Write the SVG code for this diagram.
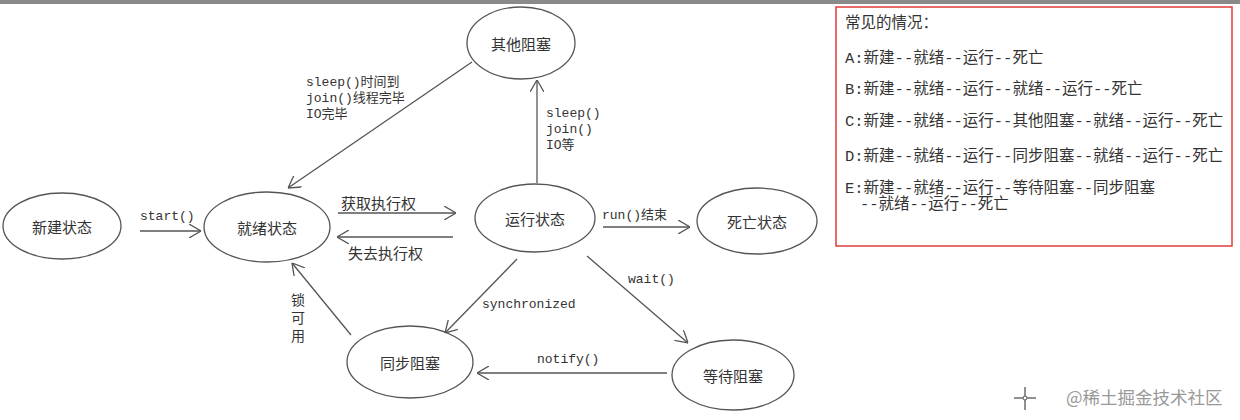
<svg xmlns="http://www.w3.org/2000/svg" width="1240" height="420" viewBox="0 0 1240 420">
<defs>
<marker id="arr" viewBox="0 0 12 14" refX="12" refY="7" markerWidth="12" markerHeight="14" markerUnits="userSpaceOnUse" orient="auto">
<path d="M0,0 L12,7 L0,14" fill="none" stroke="#555" stroke-width="1.3"/>
</marker>
<style>
.node ellipse{fill:#fff;stroke:#555;stroke-width:1.3}
.nt{font-family:"Noto Sans CJK SC",sans-serif;font-size:15px;fill:#333;text-anchor:middle;dominant-baseline:central}
.edges line{stroke:#555;stroke-width:1.3;fill:none}
.lb{font-family:"Liberation Mono","Noto Sans CJK SC",monospace;font-size:13px;fill:#333}
.lc{font-family:"Noto Sans CJK SC",sans-serif;font-size:15px;fill:#333}
.lv{font-family:"Noto Sans CJK SC",sans-serif;font-size:14px;fill:#333}
.bx{font-family:"Liberation Mono","Noto Sans CJK SC",monospace;font-size:15.5px;fill:#333}
</style>
</defs>
<rect x="0" y="0" width="1240" height="420" fill="#fff"/>
<rect x="0" y="0" width="1240" height="4" fill="#8a8a8a"/>

<g id="node-new" class="node"><ellipse cx="62" cy="226" rx="59" ry="33"/><text class="nt" x="62" y="226">新建状态</text></g>
<g id="node-ready" class="node"><ellipse cx="267" cy="227" rx="63" ry="35"/><text class="nt" x="267" y="227">就绪状态</text></g>
<g id="node-run" class="node"><ellipse cx="535" cy="218" rx="60" ry="34"/><text class="nt" x="535" y="218">运行状态</text></g>
<g id="node-dead" class="node"><ellipse cx="757" cy="221" rx="60" ry="33"/><text class="nt" x="757" y="221">死亡状态</text></g>
<g id="node-other" class="node"><ellipse cx="521" cy="43" rx="54" ry="36"/><text class="nt" x="521" y="43">其他阻塞</text></g>
<g id="node-sync" class="node"><ellipse cx="410" cy="362" rx="63" ry="36"/><text class="nt" x="410" y="362">同步阻塞</text></g>
<g id="node-wait" class="node"><ellipse cx="733" cy="375" rx="61" ry="35"/><text class="nt" x="733" y="375">等待阻塞</text></g>

<g id="edges" class="edges">
<line x1="140" y1="231" x2="201" y2="231" marker-end="url(#arr)"/>
<line x1="338" y1="213" x2="456" y2="213" marker-end="url(#arr)"/>
<line x1="453" y1="237" x2="337" y2="237" marker-end="url(#arr)"/>
<line x1="537" y1="183" x2="537" y2="80" marker-end="url(#arr)"/>
<line x1="472" y1="62" x2="288" y2="188" marker-end="url(#arr)"/>
<line x1="603" y1="227" x2="690" y2="227" marker-end="url(#arr)"/>
<line x1="517" y1="259" x2="445" y2="333" marker-end="url(#arr)"/>
<line x1="587" y1="256" x2="688" y2="343" marker-end="url(#arr)"/>
<line x1="667" y1="373" x2="477" y2="373" marker-end="url(#arr)"/>
<line x1="351" y1="335" x2="292" y2="263" marker-end="url(#arr)"/>
</g>

<g id="labels">
<text class="lb" x="140" y="220">start()</text>
<text class="lc" x="341" y="209">获取执行权</text>
<text class="lc" x="348" y="259">失去执行权</text>
<text class="lb" x="546" y="117">sleep()</text>
<text class="lb" x="546" y="133">join()</text>
<text class="lb" x="546" y="149">IO等</text>
<text class="lb" x="306" y="86">sleep()时间到</text>
<text class="lb" x="306" y="102">join()线程完毕</text>
<text class="lb" x="306" y="118">IO完毕</text>
<text class="lb" x="602" y="219">run()结束</text>
<text class="lb" x="482" y="308">synchronized</text>
<text class="lb" x="628" y="283">wait()</text>
<text class="lb" x="537" y="363">notify()</text>
<text class="lv" x="291" y="305">锁</text>
<text class="lv" x="291" y="323">可</text>
<text class="lv" x="291" y="341">用</text>
</g>

<g id="legend">
<rect x="836" y="7" width="396" height="239" fill="none" stroke="#e03c3c" stroke-width="1.5"/>
<text class="bx" x="845" y="28">常见的情况：</text>
<text class="bx" x="845" y="63">A:新建--就绪--运行--死亡</text>
<text class="bx" x="845" y="94">B:新建--就绪--运行--就绪--运行--死亡</text>
<text class="bx" x="845" y="126">C:新建--就绪--运行--其他阻塞--就绪--运行--死亡</text>
<text class="bx" x="845" y="161">D:新建--就绪--运行--同步阻塞--就绪--运行--死亡</text>
<text class="bx" x="845" y="193">E:新建--就绪--运行--等待阻塞--同步阻塞</text>
<text class="bx" x="860" y="209">--就绪--运行--死亡</text>
</g>

<g id="watermark">
<line x1="1025" y1="387" x2="1025" y2="410" stroke="#555" stroke-width="1.3"/>
<line x1="1014" y1="398" x2="1036" y2="398" stroke="#555" stroke-width="1.3"/>
<circle cx="1025" cy="398" r="2" fill="#fff" stroke="#555" stroke-width="1"/>
<text x="1066" y="404" font-family="Noto Sans CJK SC, sans-serif" font-size="17.5" fill="#999">@稀土掘金技术社区</text>
</g>
</svg>
